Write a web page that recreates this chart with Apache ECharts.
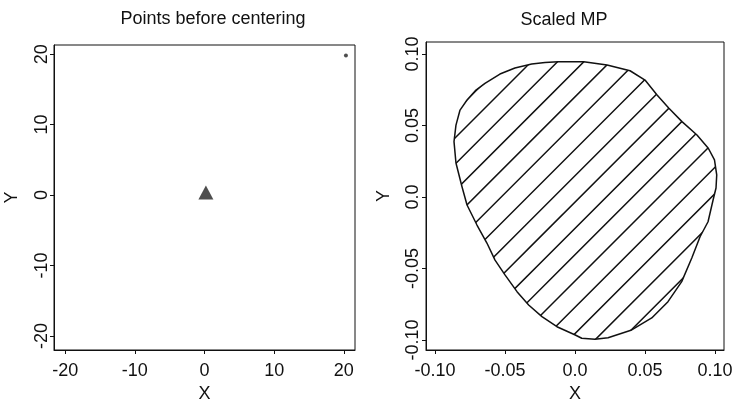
<!DOCTYPE html>
<html>
<head>
<meta charset="utf-8">
<script src="https://cdn.jsdelivr.net/npm/echarts@6/dist/echarts.min.js"></script>
<style>
html,body{margin:0;padding:0;background:#fff;}
#chart{width:734px;height:401px;}
</style>
</head>
<body>
<div id="chart"></div>
<script>
// ---- data ----
const leftTitle = 'Points before centering';
const rightTitle = 'Scaled MP';
const leftTicks = [-20, -10, 0, 10, 20];
const rightTickValues = [-0.10, -0.05, 0, 0.05, 0.10];
const rightTickLabels = ['-0.10', '-0.05', '0.0', '0.05', '0.10'];
// points before centering: cluster (triangle) near origin, one outlier
const clusterPoints = [[0.2, 0.35]];
const outlierPoints = [[20.3, 19.8]];
// boundary of scaled MP (traced clockwise from the top)
const mpX = [-0.0121, 0.0062, 0.0229, 0.0393, 0.0500, 0.0586, 0.0669, 0.0764, 0.0871, 0.0952,
  0.0996, 0.1012, 0.1007, 0.0986, 0.0950, 0.0893, 0.0834, 0.0762, 0.0664, 0.0548,
  0.0405, 0.0236, 0.0143, 0.0048, 0.0002, -0.0129, -0.0236, -0.0331, -0.0414, -0.0500,
  -0.0571, -0.0629, -0.0700, -0.0771, -0.0807, -0.0850, -0.0864, -0.0850, -0.0821, -0.0771,
  -0.0707, -0.0643, -0.0536, -0.0429, -0.0309, -0.0214];
const mpY = [0.0946, 0.0946, 0.0923, 0.0883, 0.0818, 0.0713, 0.0622, 0.0527, 0.0434, 0.0341,
  0.0259, 0.0154, 0.0063, -0.0021, -0.0173, -0.0278, -0.0427, -0.0592, -0.0732, -0.0846,
  -0.0930, -0.0984, -0.0995, -0.0988, -0.0965, -0.0907, -0.0837, -0.0755, -0.0662, -0.0545,
  -0.0441, -0.0322, -0.0196, -0.0056, 0.0072, 0.0238, 0.0387, 0.0503, 0.0608, 0.0678,
  0.0748, 0.0795, 0.0860, 0.0902, 0.0930, 0.0941];

// ---- hatch pattern (style) ----
const T = 263;
const pc = document.createElement('canvas');
pc.width = T; pc.height = T;
const pctx = pc.getContext('2d');
pctx.strokeStyle = '#111';
pctx.lineWidth = 1.5;
pctx.beginPath();
for (let k = -2; k <= 22; k++) {
  const s = 14.4 + 26.3 * k;
  pctx.moveTo(s + 20, -20);
  pctx.lineTo(-20, s + 20);
}
pctx.stroke();

const FONT = 'Liberation Sans, Arial, Helvetica, sans-serif';
const INK = '#111';
const textStyle = {fontFamily: FONT, fontSize: 18, color: INK};

function axisCommon(ticks, fmt, isY, margin, nameGap) {
  return {
    axisLine: {show: true, onZero: false, lineStyle: {color: INK, width: 1}},
    axisTick: {show: true, inside: false, length: 4, lineStyle: {color: INK}, customValues: ticks},
    axisLabel: Object.assign({
      customValues: ticks,
      formatter: fmt,
      rotate: isY ? 90 : 0,
      margin: margin,
      showMinLabel: true, showMaxLabel: true
    }, textStyle),
    splitLine: {show: false},
    nameLocation: 'middle',
    nameTextStyle: textStyle,
    nameRotate: isY ? 90 : 0,
    nameGap: nameGap
  };
}
const rightFmt = v => {
  const i = rightTickValues.findIndex(t => Math.abs(t - v) < 1e-9);
  return i >= 0 ? rightTickLabels[i] : '';
};

const chart = echarts.init(document.getElementById('chart'), null, {renderer: 'canvas'});
chart.setOption({
  backgroundColor: '#ffffff',
  animation: false,
  title: [
    {text: leftTitle, left: 208, top: 5, textAlign: 'center', textStyle: {fontFamily: FONT, fontSize: 18, fontWeight: 'normal', color: INK}},
    {text: rightTitle, left: 559, top: 6, textAlign: 'center', textStyle: {fontFamily: FONT, fontSize: 18, fontWeight: 'normal', color: INK}}
  ],
  grid: [
    {left: 54, right: 379, top: 45, bottom: 51, show: true, borderColor: INK, borderWidth: 1, backgroundColor: '#fff', containLabel: false, outerBoundsMode: 'none'},
    {left: 426, right: 10, top: 42, bottom: 51, show: true, borderColor: INK, borderWidth: 1, backgroundColor: '#fff', containLabel: false, outerBoundsMode: 'none'}
  ],
  xAxis: [
    Object.assign({type: 'value', gridIndex: 0, min: -21.6, max: 21.6, name: 'X'}, axisCommon(leftTicks, v => String(v), false, 12, 33)),
    Object.assign({type: 'value', gridIndex: 1, min: -0.1064, max: 0.1064, name: 'X'}, axisCommon(rightTickValues, rightFmt, false, 12, 33))
  ],
  yAxis: [
    Object.assign({type: 'value', gridIndex: 0, min: -22.0, max: 21.3, name: 'Y'}, axisCommon(leftTicks, v => String(v), true, 3, 33)),
    Object.assign({type: 'value', gridIndex: 1, min: -0.107, max: 0.1084, name: 'Y'}, axisCommon(rightTickValues, rightFmt, true, 4, 33))
  ],
  series: [
    {
      type: 'scatter', xAxisIndex: 0, yAxisIndex: 0,
      data: clusterPoints, symbol: 'triangle', symbolSize: [15, 14],
      itemStyle: {color: '#222'}, silent: true
    },
    {
      type: 'scatter', xAxisIndex: 0, yAxisIndex: 0,
      data: outlierPoints, symbol: 'circle', symbolSize: 4,
      itemStyle: {color: '#222'}, silent: true
    },
    {
      type: 'custom', xAxisIndex: 1, yAxisIndex: 1,
      data: mpX.map((x, i) => [x, mpY[i]]),
      renderItem: function (params, api) {
        if (params.dataIndex !== 0) return null;
        const pts = mpX.map((x, i) => api.coord([x, mpY[i]]));
        return {
          type: 'polygon',
          shape: {points: pts},
          style: {fill: {image: pc, repeat: 'repeat'}, stroke: INK, lineWidth: 1.5, lineJoin: 'round'}
        };
      },
      silent: true
    }
  ]
});
</script>
</body>
</html>
